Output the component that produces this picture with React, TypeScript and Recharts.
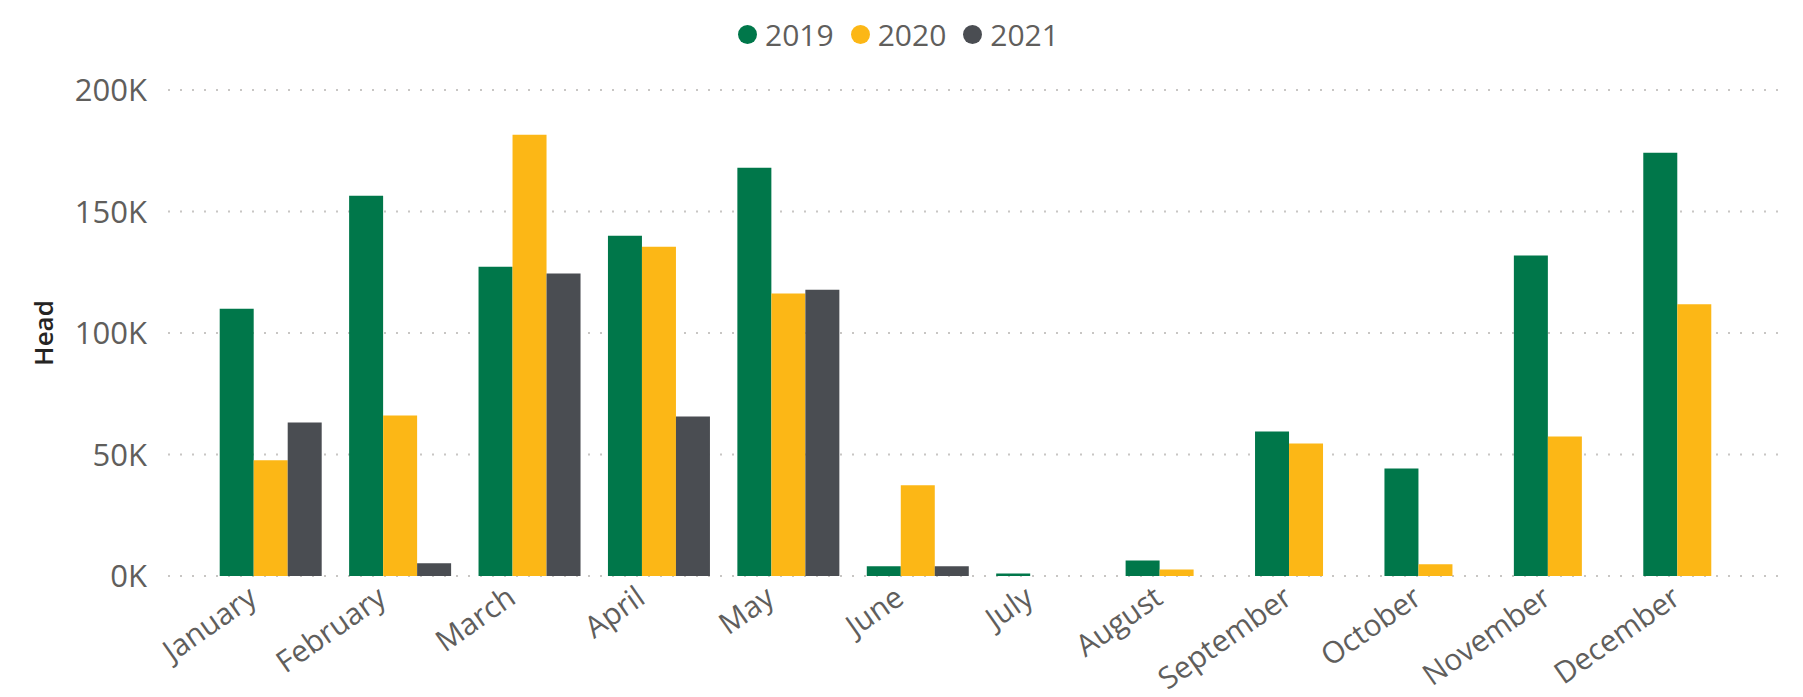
import { Bar, BarChart, CartesianGrid, Legend, XAxis, YAxis } from "recharts";

const MONTHS = [
  "January",
  "February",
  "March",
  "April",
  "May",
  "June",
  "July",
  "August",
  "September",
  "October",
  "November",
  "December",
];

const Y2019 = [110000, 156500, 127300, 140000, 168000, 4000, 1000, 6400, 59500, 44200, 131900, 174200];
const Y2020 = [47600, 66000, 181600, 135500, 116300, 37300, null, 2700, 54500, 4800, 57400, 111800];
const Y2021 = [63200, 5200, 124500, 65600, 117800, 4000, null, null, null, null, null, null];

const Y_TICKS = [0, 50000, 100000, 150000, 200000];

const SERIES = [
  { key: "y2019", name: "2019", color: "#00774A" },
  { key: "y2020", name: "2020", color: "#FCB716" },
  { key: "y2021", name: "2021", color: "#4A4D52" },
];

const data = MONTHS.map((m, i) => ({
  month: m,
  y2019: Y2019[i],
  y2020: Y2020[i],
  y2021: Y2021[i],
}));

const FONT = "'Open Sans', 'Noto Sans', sans-serif";

function MonthTick({ x, y, payload }: any) {
  const tx = x - 12;
  const ty = y + 18;
  return (
    <text
      x={tx}
      y={ty}
      transform={`rotate(-35, ${tx}, ${ty})`}
      textAnchor="end"
      fill="#605E5C"
      fontSize={30}
      fontFamily={FONT}
    >
      {payload.value}
    </text>
  );
}

function LegendBox() {
  return (
    <div
      style={{
        display: "flex",
        justifyContent: "center",
        alignItems: "center",
        height: 44,
        paddingLeft: 26,
        fontFamily: FONT,
        fontSize: 30,
        color: "#605E5C",
      }}
    >
      {SERIES.map((s) => (
        <div key={s.key} style={{ display: "flex", alignItems: "center", marginRight: 17 }}>
          <span
            style={{
              width: 19,
              height: 19,
              borderRadius: "50%",
              background: s.color,
              display: "inline-block",
              marginRight: 8,
            }}
          />
          <span>{s.name}</span>
        </div>
      ))}
    </div>
  );
}

export default function App() {
  return (
    <div style={{ position: "absolute", left: 0, top: 0, width: 1803, height: 697, background: "#fff" }}>
      <BarChart
        width={1803}
        height={697}
        data={data}
        margin={{ top: 46, right: 15, bottom: 0, left: 0 }}
        barCategoryGap={13.7}
        barGap={0}
      >
        <CartesianGrid
          vertical={false}
          stroke="#C8C6C4"
          strokeWidth={2}
          strokeDasharray="2 10"
        />
        <XAxis
          dataKey="month"
          interval={0}
          axisLine={false}
          tickLine={false}
          height={121}
          padding={{ left: 38, right: 29 }}
          tick={<MonthTick />}
        />
        <YAxis
          width={168}
          domain={[0, 200000]}
          ticks={Y_TICKS}
          axisLine={false}
          tickLine={false}
          tickMargin={15}
          tickFormatter={(v: number) => `${v / 1000}K`}
          tick={{ fill: "#605E5C", fontSize: 31, fontFamily: FONT }}
          label={{
            value: "Head",
            angle: -90,
            position: "insideLeft",
            offset: 0,
            dx: 44,
            style: { fill: "#252423", fontSize: 26, fontWeight: 600, fontFamily: FONT, textAnchor: "middle" },
          }}
        />
        <Legend verticalAlign="top" content={<LegendBox />} wrapperStyle={{ top: 12 }} />
        {SERIES.map((s) => (
          <Bar key={s.key} dataKey={s.key} name={s.name} fill={s.color} isAnimationActive={false} />
        ))}
      </BarChart>
    </div>
  );
}
